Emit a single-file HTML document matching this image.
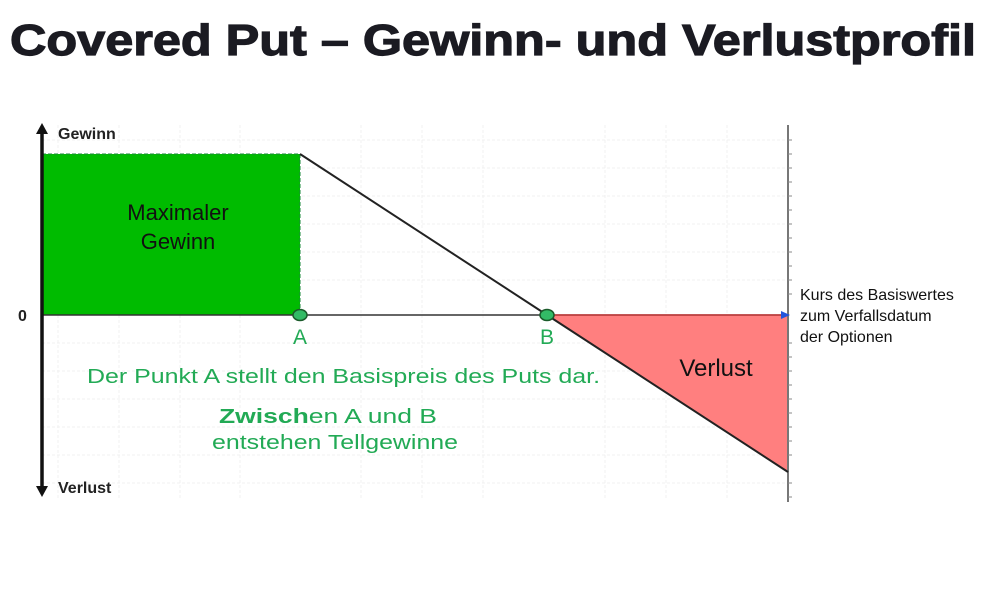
<!DOCTYPE html>
<html><head><meta charset="utf-8"><style>
html,body{margin:0;padding:0;background:#fff;width:1000px;height:600px;overflow:hidden}
</style></head><body>
<svg width="1000" height="600" xmlns="http://www.w3.org/2000/svg" font-family="Liberation Sans, sans-serif">
<text x="10" y="55" font-size="44" font-weight="bold" fill="#1b1b22" stroke="#1b1b22" stroke-width="1.2" textLength="966" lengthAdjust="spacingAndGlyphs">Covered Put – Gewinn- und Verlustprofil</text>
<g stroke="#f0f0f0" stroke-width="1" stroke-dasharray="3,2">
<line x1="58" y1="125" x2="58" y2="500"/><line x1="119" y1="125" x2="119" y2="500"/><line x1="180" y1="125" x2="180" y2="500"/><line x1="240" y1="125" x2="240" y2="500"/><line x1="361" y1="125" x2="361" y2="500"/><line x1="422" y1="125" x2="422" y2="500"/><line x1="483" y1="125" x2="483" y2="500"/><line x1="605" y1="125" x2="605" y2="500"/><line x1="666" y1="125" x2="666" y2="500"/><line x1="727" y1="125" x2="727" y2="500"/>
<line x1="42" y1="140" x2="788" y2="140"/><line x1="42" y1="168" x2="788" y2="168"/><line x1="42" y1="196" x2="788" y2="196"/><line x1="42" y1="224" x2="788" y2="224"/><line x1="42" y1="252" x2="788" y2="252"/><line x1="42" y1="280" x2="788" y2="280"/><line x1="42" y1="343" x2="788" y2="343"/><line x1="42" y1="371" x2="788" y2="371"/><line x1="42" y1="399" x2="788" y2="399"/><line x1="42" y1="427" x2="788" y2="427"/><line x1="42" y1="455" x2="788" y2="455"/><line x1="42" y1="483" x2="788" y2="483"/>
</g>
<rect x="42" y="154" width="258" height="161" fill="#00bb00" stroke="#1a8a3a" stroke-width="1" stroke-dasharray="4,2"/>
<polygon points="547,315 788,315 788,472" fill="#ff7f7f"/>
<line x1="42" y1="315" x2="788" y2="315" stroke="#333" stroke-width="1.5"/>
<line x1="547" y1="315" x2="788" y2="315" stroke="#d04040" stroke-width="1.5"/>
<line x1="788" y1="125" x2="788" y2="502" stroke="#777" stroke-width="2"/>
<g stroke="#888" stroke-width="1">
<line x1="788" y1="140" x2="792" y2="140"/><line x1="788" y1="154" x2="792" y2="154"/><line x1="788" y1="168" x2="792" y2="168"/><line x1="788" y1="182" x2="792" y2="182"/><line x1="788" y1="196" x2="792" y2="196"/><line x1="788" y1="210" x2="792" y2="210"/><line x1="788" y1="224" x2="792" y2="224"/><line x1="788" y1="238" x2="792" y2="238"/><line x1="788" y1="252" x2="792" y2="252"/><line x1="788" y1="266" x2="792" y2="266"/><line x1="788" y1="280" x2="792" y2="280"/><line x1="788" y1="294" x2="792" y2="294"/><line x1="788" y1="343" x2="792" y2="343"/><line x1="788" y1="357" x2="792" y2="357"/><line x1="788" y1="371" x2="792" y2="371"/><line x1="788" y1="385" x2="792" y2="385"/><line x1="788" y1="399" x2="792" y2="399"/><line x1="788" y1="413" x2="792" y2="413"/><line x1="788" y1="427" x2="792" y2="427"/><line x1="788" y1="441" x2="792" y2="441"/><line x1="788" y1="455" x2="792" y2="455"/><line x1="788" y1="483" x2="792" y2="483"/><line x1="788" y1="497" x2="792" y2="497"/>
</g>
<polyline points="300,154 547,315 788,472" fill="none" stroke="#222" stroke-width="2"/>
<polygon points="781,311 790,315 781,319" fill="#2255dd"/>
<line x1="42" y1="132" x2="42" y2="488" stroke="#111" stroke-width="3.5"/>
<polygon points="36,134 42,123 48,134" fill="#111"/>
<polygon points="36,486 42,497 48,486" fill="#111"/>
<ellipse cx="300" cy="315" rx="7" ry="5.5" fill="#33bb66" stroke="#1a5a2a" stroke-width="1.5"/>
<ellipse cx="547" cy="315" rx="7" ry="5.5" fill="#33bb66" stroke="#1a5a2a" stroke-width="1.5"/>
<text x="58" y="139" font-size="16" font-weight="bold" fill="#222">Gewinn</text>
<text x="58" y="493" font-size="16" font-weight="bold" fill="#222">Verlust</text>
<text x="18" y="321" font-size="16" font-weight="bold" fill="#222">0</text>
<text x="178" y="220" font-size="22" fill="#111" text-anchor="middle">Maximaler</text>
<text x="178" y="249" font-size="22" fill="#111" text-anchor="middle">Gewinn</text>
<text x="716" y="376" font-size="24" fill="#111" text-anchor="middle">Verlust</text>
<text x="300" y="344" font-size="21" fill="#22aa55" text-anchor="middle">A</text>
<text x="547" y="344" font-size="21" fill="#22aa55" text-anchor="middle">B</text>
<text x="87" y="383" font-size="20" fill="#22aa55" textLength="513" lengthAdjust="spacingAndGlyphs">Der Punkt A stellt den Basispreis des Puts dar.</text>
<text x="219" y="423" font-size="20" fill="#22aa55" textLength="218" lengthAdjust="spacingAndGlyphs"><tspan font-weight="bold">Zwisch</tspan>en A und B</text>
<text x="212" y="449" font-size="20" fill="#22aa55" textLength="246" lengthAdjust="spacingAndGlyphs">entstehen Tellgewinne</text>
<text font-size="16" fill="#111"><tspan x="800" y="300">Kurs des Basiswertes</tspan><tspan x="800" y="321">zum Verfallsdatum</tspan><tspan x="800" y="342">der Optionen</tspan></text>
</svg>
</body></html>
